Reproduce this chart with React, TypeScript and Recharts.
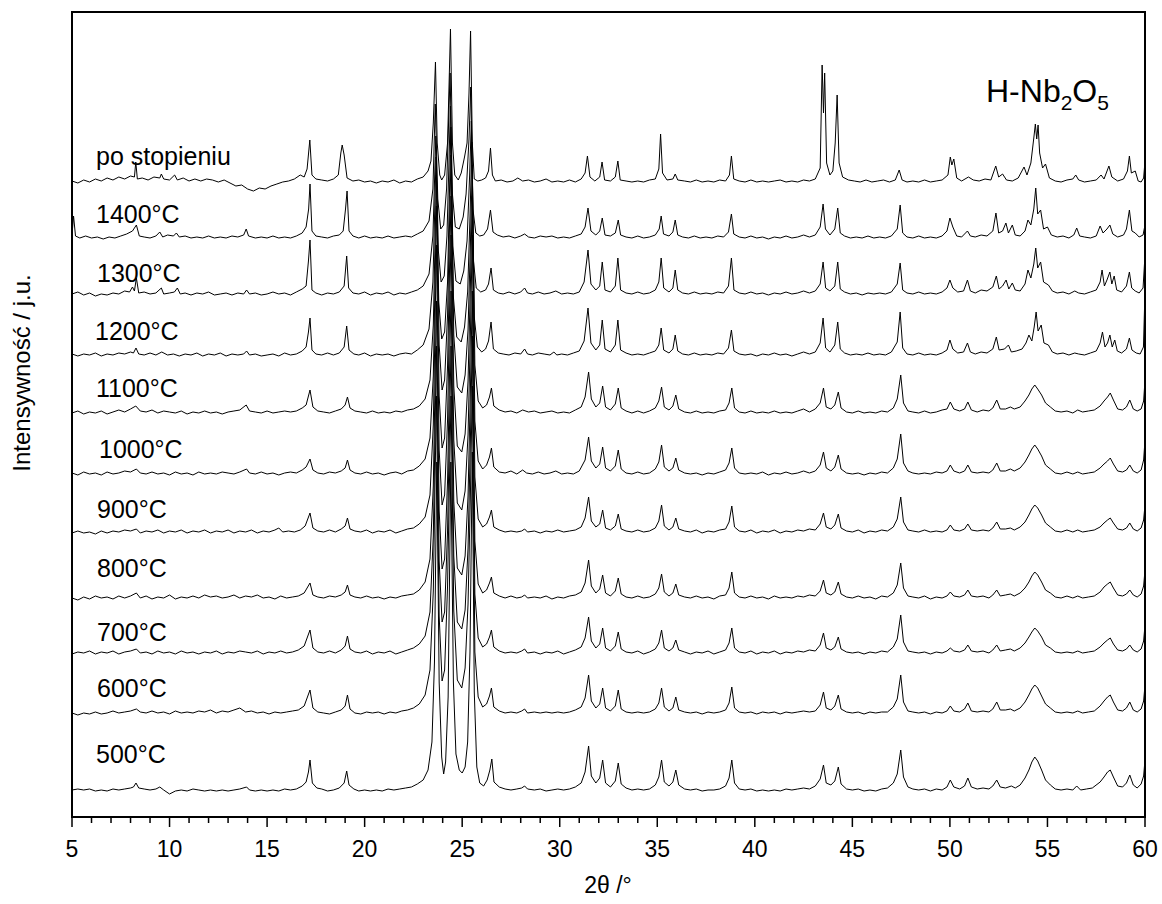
import React from 'react';
import { LineChart, Line, XAxis, YAxis, ReferenceArea } from 'recharts';

// Stacking offsets (baseline level of each pattern, in chart units from the bottom axis)
const OFFSETS = [634, 578, 521, 460, 402, 341, 282, 216, 161, 101, 25];
const SERIES_NAMES = ['po stopieniu', '1400°C', '1300°C', '1200°C', '1100°C', '1000°C', '900°C', '800°C', '700°C', '600°C', '500°C'];
const X_TICKS = [5, 6, 7, 8, 9, 10, 11, 12, 13, 14, 15, 16, 17, 18, 19, 20, 21, 22, 23, 24, 25, 26, 27, 28, 29, 30, 31, 32, 33, 34, 35, 36, 37, 38, 39, 40, 41, 42, 43, 44, 45, 46, 47, 48, 49, 50, 51, 52, 53, 54, 55, 56, 57, 58, 59, 60];

// Each pattern: flat list of [2θ, intensity above its baseline]
const S_PO = [5.0,2, 5.3,0, 5.6,3, 5.9,1, 6.2,4, 6.5,2, 6.8,5, 7.1,3, 7.4,6, 7.7,4, 8.0,7, 8.2,6, 8.27,21, 8.35,4, 8.6,5, 8.9,3, 9.2,6, 9.5,5, 9.58,9, 9.7,4, 10.0,3, 10.26,8, 10.4,3, 10.7,5, 11.0,2, 11.3,4, 11.6,2, 11.9,4, 12.2,3, 12.5,1, 12.8,3, 13.1,0, 13.4,-3, 13.7,-2, 14.0,-6, 14.3,-8, 14.6,-5, 14.9,-6, 15.2,-3, 15.5,-1, 15.8,1, 16.1,2, 16.4,4, 16.7,8, 16.9,6, 17.05,14, 17.19,43, 17.3,8, 17.5,4, 17.8,3, 18.1,2, 18.4,4, 18.65,8, 18.78,30, 18.85,38, 18.95,28, 19.1,5, 19.4,2, 19.7,3, 20.0,1, 20.3,2, 20.6,0, 20.9,2, 21.2,1, 21.5,3, 21.8,0, 22.1,2, 22.4,1, 22.7,4, 23.0,6, 23.25,12, 23.4,22, 23.52,60, 23.63,121, 23.72,40, 23.85,8, 23.95,3, 24.1,8, 24.25,40, 24.4,154, 24.5,40, 24.62,8, 24.8,3, 24.95,10, 25.12,26, 25.25,40, 25.35,90, 25.43,152, 25.52,40, 25.62,4, 25.8,2, 26.0,3, 26.2,5, 26.35,12, 26.45,35, 26.55,8, 26.7,2, 27.0,3, 27.3,1, 27.6,2, 27.85,5, 28.1,2, 28.4,3, 28.7,1, 29.0,2, 29.3,4, 29.6,1, 29.9,2, 30.2,1, 30.5,3, 30.8,1, 31.1,4, 31.3,10, 31.42,27, 31.55,6, 31.8,2, 32.05,6, 32.17,21, 32.3,3, 32.6,2, 32.85,6, 32.98,22, 33.1,3, 33.4,2, 33.7,1, 34.0,2, 34.3,1, 34.6,3, 34.9,4, 35.08,14, 35.17,49, 35.27,10, 35.5,3, 35.8,4, 35.92,9, 36.05,3, 36.4,2, 36.7,1, 37.0,3, 37.3,1, 37.6,2, 37.9,1, 38.2,3, 38.5,2, 38.7,8, 38.8,27, 38.92,4, 39.2,2, 39.5,1, 39.8,3, 40.1,1, 40.4,2, 40.7,1, 41.0,2, 41.3,3, 41.6,1, 41.9,2, 42.2,1, 42.5,3, 42.8,2, 43.1,4, 43.35,15, 43.45,118, 43.52,70, 43.58,110, 43.68,20, 43.85,8, 44.0,12, 44.12,40, 44.22,88, 44.32,20, 44.5,6, 44.8,3, 45.1,2, 45.4,1, 45.7,3, 46.0,1, 46.3,2, 46.6,3, 46.9,1, 47.2,3, 47.4,13, 47.55,3, 47.8,1, 48.1,2, 48.4,1, 48.7,3, 49.0,1, 49.3,2, 49.6,3, 49.9,8, 50.02,26, 50.1,18, 50.2,24, 50.35,5, 50.6,2, 50.95,6, 51.2,3, 51.5,2, 51.8,4, 52.1,3, 52.35,17, 52.5,6, 52.7,9, 52.9,3, 53.2,2, 53.5,5, 53.8,16, 53.95,8, 54.15,20, 54.3,45, 54.38,59, 54.45,44, 54.52,58, 54.6,30, 54.75,15, 54.9,19, 55.1,5, 55.4,2, 55.7,1, 56.0,3, 56.3,4, 56.45,8, 56.6,3, 56.9,1, 57.2,2, 57.5,3, 57.75,8, 57.9,4, 58.15,17, 58.3,6, 58.6,2, 58.9,4, 59.1,12, 59.2,27, 59.3,10, 59.5,12, 59.65,2, 59.8,1, 59.93,5, 60.0,22];

const S_1400 = [5.0,4, 5.08,23, 5.18,3, 5.4,1, 5.7,3, 6.0,1, 6.3,2, 6.6,0, 6.9,2, 7.2,1, 7.5,3, 7.8,5, 8.1,8, 8.3,14, 8.45,3, 8.7,2, 9.0,1, 9.3,3, 9.5,7, 9.65,2, 9.9,4, 10.2,3, 10.35,6, 10.5,2, 10.8,3, 11.1,1, 11.4,2, 11.7,1, 12.0,3, 12.3,1, 12.6,2, 12.9,1, 13.2,3, 13.5,2, 13.8,4, 13.93,10, 14.05,3, 14.4,1, 14.7,2, 15.0,1, 15.3,3, 15.6,1, 15.9,2, 16.2,1, 16.5,3, 16.8,6, 17.0,12, 17.13,30, 17.2,55, 17.3,8, 17.5,3, 17.8,2, 18.1,1, 18.4,3, 18.7,4, 18.9,8, 19.02,30, 19.1,48, 19.2,8, 19.4,3, 19.7,1, 20.0,3, 20.3,1, 20.6,2, 20.9,1, 21.2,3, 21.5,1, 21.8,2, 22.1,3, 22.4,2, 22.7,5, 23.0,8, 23.3,18, 23.5,50, 23.62,135, 23.75,40, 23.9,10, 24.05,14, 24.2,50, 24.38,166, 24.5,45, 24.65,12, 24.85,10, 25.05,22, 25.2,45, 25.35,100, 25.44,152, 25.55,30, 25.7,6, 25.9,3, 26.1,4, 26.3,10, 26.45,29, 26.58,7, 26.8,4, 27.1,2, 27.4,3, 27.7,1, 28.0,3, 28.2,5, 28.4,2, 28.7,1, 29.0,3, 29.3,2, 29.6,3, 29.9,1, 30.2,2, 30.5,1, 30.8,3, 31.1,5, 31.3,12, 31.45,31, 31.6,8, 31.85,4, 32.05,8, 32.18,21, 32.32,4, 32.6,3, 32.85,6, 33.0,19, 33.12,4, 33.4,2, 33.7,1, 34.0,3, 34.3,1, 34.6,2, 34.9,4, 35.1,10, 35.2,23, 35.32,5, 35.6,3, 35.8,7, 35.92,19, 36.05,4, 36.3,2, 36.6,1, 36.9,3, 37.2,1, 37.5,2, 37.8,1, 38.1,3, 38.4,2, 38.65,7, 38.8,25, 38.92,5, 39.2,2, 39.5,1, 39.8,3, 40.1,1, 40.4,2, 40.7,0, 41.0,2, 41.3,1, 41.6,3, 41.9,1, 42.2,2, 42.5,4, 42.8,2, 43.1,4, 43.35,12, 43.5,35, 43.62,10, 43.85,4, 44.1,10, 44.25,31, 44.38,6, 44.6,3, 44.9,1, 45.2,2, 45.5,1, 45.8,3, 46.1,1, 46.4,2, 46.7,1, 47.0,3, 47.3,10, 47.45,34, 47.58,6, 47.8,2, 48.1,1, 48.4,3, 48.7,1, 49.0,2, 49.3,1, 49.6,3, 49.85,8, 50.0,21, 50.15,12, 50.35,3, 50.6,2, 50.9,8, 51.05,3, 51.3,2, 51.6,4, 51.9,3, 52.2,8, 52.36,26, 52.5,6, 52.7,8, 52.87,16, 53.0,6, 53.2,14, 53.35,4, 53.6,3, 53.85,8, 54.0,19, 54.15,14, 54.3,30, 54.4,51, 54.5,25, 54.65,29, 54.8,10, 55.0,12, 55.2,4, 55.5,2, 55.8,3, 56.1,1, 56.35,4, 56.5,11, 56.65,3, 56.9,2, 57.2,1, 57.5,3, 57.7,13, 57.85,6, 58.05,10, 58.2,14, 58.35,5, 58.6,2, 58.9,4, 59.05,10, 59.2,29, 59.33,8, 59.5,6, 59.7,2, 59.9,4, 60.0,14];

const S_1300 = [5.0,2, 5.3,4, 5.6,1, 5.9,3, 6.2,0, 6.5,2, 6.8,1, 7.1,3, 7.4,2, 7.7,5, 7.95,4, 8.1,9, 8.2,5, 8.3,18, 8.42,3, 8.7,4, 9.0,2, 9.3,3, 9.58,8, 9.7,2, 10.0,3, 10.25,4, 10.4,8, 10.55,2, 10.8,3, 11.1,1, 11.4,3, 11.7,2, 12.0,4, 12.3,1, 12.6,2, 12.9,3, 13.2,1, 13.5,3, 13.8,2, 13.95,6, 14.1,2, 14.4,3, 14.7,1, 15.0,2, 15.3,4, 15.6,2, 15.9,3, 16.2,1, 16.5,4, 16.8,7, 17.0,10, 17.12,35, 17.2,56, 17.3,6, 17.5,3, 17.8,1, 18.1,3, 18.4,2, 18.7,4, 18.95,10, 19.08,40, 19.18,8, 19.4,3, 19.7,2, 20.0,4, 20.3,1, 20.6,3, 20.9,2, 21.2,4, 21.5,1, 21.8,3, 22.1,2, 22.4,4, 22.7,6, 23.0,10, 23.3,22, 23.5,60, 23.65,160, 23.78,45, 23.92,14, 24.08,20, 24.22,60, 24.4,190, 24.52,50, 24.68,15, 24.9,12, 25.08,25, 25.25,55, 25.38,120, 25.47,175, 25.58,35, 25.72,8, 25.95,4, 26.2,6, 26.35,12, 26.48,28, 26.6,6, 26.85,3, 27.1,2, 27.4,4, 27.7,2, 28.0,4, 28.2,8, 28.35,3, 28.6,2, 28.9,4, 29.2,2, 29.5,3, 29.8,5, 30.1,2, 30.4,3, 30.7,2, 31.0,4, 31.25,14, 31.45,46, 31.6,12, 31.85,6, 32.05,10, 32.18,34, 32.32,6, 32.6,4, 32.85,10, 32.98,38, 33.12,6, 33.4,3, 33.7,2, 34.0,4, 34.3,2, 34.6,3, 34.9,6, 35.08,14, 35.2,38, 35.33,8, 35.6,4, 35.8,8, 35.92,26, 36.05,6, 36.3,3, 36.6,2, 36.9,4, 37.2,2, 37.5,3, 37.8,2, 38.1,4, 38.4,3, 38.65,10, 38.8,38, 38.93,6, 39.2,3, 39.5,2, 39.8,4, 40.1,2, 40.4,3, 40.7,1, 41.0,3, 41.3,2, 41.6,4, 41.9,2, 42.2,3, 42.5,5, 42.8,3, 43.1,5, 43.35,12, 43.5,34, 43.63,8, 43.85,5, 44.1,10, 44.25,34, 44.38,7, 44.6,4, 44.9,2, 45.2,3, 45.5,1, 45.8,3, 46.1,2, 46.4,3, 46.7,2, 47.0,4, 47.3,12, 47.45,33, 47.58,6, 47.8,3, 48.1,2, 48.4,4, 48.7,2, 49.0,3, 49.3,2, 49.6,4, 49.85,8, 50.0,16, 50.15,8, 50.4,4, 50.7,5, 50.9,16, 51.05,5, 51.3,3, 51.6,6, 51.9,5, 52.2,9, 52.38,20, 52.52,7, 52.7,10, 52.88,16, 53.02,7, 53.2,13, 53.35,6, 53.6,5, 53.85,12, 54.0,26, 54.15,18, 54.3,32, 54.4,48, 54.5,28, 54.65,34, 54.8,14, 55.05,11, 55.25,5, 55.5,3, 55.8,4, 56.1,2, 56.4,5, 56.6,3, 56.9,2, 57.2,4, 57.5,6, 57.7,14, 57.8,26, 57.92,10, 58.05,16, 58.2,24, 58.3,12, 58.42,20, 58.55,6, 58.8,4, 59.05,10, 59.2,24, 59.32,8, 59.5,5, 59.7,3, 59.9,8, 60.0,41];

const S_1200 = [5.0,3, 5.3,1, 5.6,3, 5.9,2, 6.2,4, 6.5,1, 6.8,3, 7.1,2, 7.4,4, 7.7,3, 8.0,5, 8.15,4, 8.28,9, 8.42,3, 8.7,2, 9.0,4, 9.3,2, 9.6,5, 9.9,2, 10.2,3, 10.5,1, 10.8,3, 11.1,2, 11.4,4, 11.7,1, 12.0,3, 12.3,2, 12.6,4, 12.9,1, 13.2,3, 13.5,2, 13.8,3, 13.95,6, 14.1,2, 14.4,3, 14.7,1, 15.0,2, 15.3,3, 15.6,1, 15.9,4, 16.2,2, 16.5,3, 16.8,6, 17.0,10, 17.12,25, 17.2,39, 17.3,7, 17.5,3, 17.8,2, 18.1,4, 18.4,2, 18.7,4, 18.95,10, 19.08,31, 19.2,7, 19.45,3, 19.7,2, 20.0,4, 20.3,1, 20.6,3, 20.9,2, 21.2,3, 21.5,1, 21.8,3, 22.1,4, 22.4,3, 22.7,7, 23.0,12, 23.3,28, 23.5,75, 23.66,200, 23.8,55, 23.95,18, 24.1,25, 24.25,75, 24.42,230, 24.55,60, 24.72,20, 24.95,15, 25.12,30, 25.28,65, 25.4,140, 25.5,215, 25.62,40, 25.78,10, 26.0,5, 26.2,8, 26.35,16, 26.48,35, 26.6,8, 26.85,4, 27.1,3, 27.4,2, 27.7,4, 28.0,3, 28.2,8, 28.35,3, 28.6,2, 28.9,4, 29.2,3, 29.5,2, 29.7,5, 29.85,2, 30.1,3, 30.4,2, 30.7,4, 31.0,6, 31.25,16, 31.45,49, 31.6,14, 31.85,7, 32.05,12, 32.18,37, 32.32,8, 32.6,5, 32.85,12, 32.98,37, 33.12,7, 33.4,4, 33.7,2, 34.0,3, 34.3,2, 34.6,4, 34.9,6, 35.08,12, 35.2,29, 35.33,7, 35.6,4, 35.8,8, 35.92,22, 36.05,6, 36.3,3, 36.6,2, 36.9,4, 37.2,2, 37.5,3, 37.8,2, 38.1,4, 38.4,3, 38.65,9, 38.8,27, 38.93,6, 39.2,3, 39.5,2, 39.8,3, 40.1,1, 40.4,3, 40.7,2, 41.0,4, 41.3,2, 41.6,3, 41.9,1, 42.2,3, 42.5,5, 42.8,3, 43.1,5, 43.35,14, 43.5,39, 43.63,9, 43.85,5, 44.1,12, 44.25,35, 44.38,8, 44.6,4, 44.9,2, 45.2,3, 45.5,2, 45.8,4, 46.1,2, 46.4,3, 46.7,2, 47.0,5, 47.3,15, 47.45,45, 47.58,9, 47.8,3, 48.1,2, 48.4,4, 48.7,2, 49.0,3, 49.3,2, 49.6,4, 49.85,7, 50.0,17, 50.15,8, 50.4,4, 50.7,5, 50.9,14, 51.05,5, 51.3,3, 51.6,5, 51.9,4, 52.2,8, 52.38,20, 52.52,7, 52.8,8, 53.0,12, 53.15,5, 53.4,6, 53.7,8, 53.9,14, 54.05,22, 54.2,16, 54.32,30, 54.42,45, 54.52,26, 54.68,32, 54.82,14, 55.05,12, 55.25,5, 55.5,3, 55.8,4, 56.1,2, 56.4,4, 56.6,3, 56.9,2, 57.2,4, 57.5,6, 57.7,14, 57.82,25, 57.95,10, 58.08,14, 58.2,22, 58.32,10, 58.45,17, 58.58,6, 58.8,4, 59.05,8, 59.2,19, 59.33,7, 59.55,4, 59.75,3, 59.92,10, 60.0,66];

const S_1100 = [5.0,2, 5.3,4, 5.6,1, 5.9,3, 6.2,2, 6.5,4, 6.8,1, 7.1,3, 7.4,5, 7.7,3, 8.0,6, 8.27,9, 8.5,4, 8.8,3, 9.1,5, 9.4,2, 9.7,4, 10.0,3, 10.3,2, 10.6,4, 10.9,1, 11.2,3, 11.5,2, 11.8,4, 12.1,2, 12.4,3, 12.7,1, 13.0,3, 13.3,4, 13.6,5, 13.93,10, 14.1,4, 14.4,3, 14.7,2, 15.0,4, 15.3,2, 15.6,3, 15.9,4, 16.2,3, 16.5,4, 16.8,7, 17.0,10, 17.2,25, 17.35,8, 17.6,4, 17.9,3, 18.2,2, 18.5,4, 18.8,6, 19.0,10, 19.12,18, 19.25,7, 19.5,4, 19.8,3, 20.1,2, 20.4,4, 20.7,2, 21.0,3, 21.3,2, 21.6,4, 21.9,3, 22.2,5, 22.5,6, 22.8,9, 23.1,16, 23.35,35, 23.52,90, 23.68,240, 23.82,70, 23.97,25, 24.1,35, 24.25,100, 24.43,260, 24.57,80, 24.75,28, 24.98,22, 25.15,40, 25.3,85, 25.42,170, 25.52,250, 25.65,50, 25.82,14, 26.05,7, 26.25,10, 26.4,18, 26.5,27, 26.62,9, 26.9,5, 27.2,3, 27.5,4, 27.8,2, 28.1,5, 28.4,3, 28.7,4, 29.0,2, 29.3,3, 29.6,4, 29.9,2, 30.2,3, 30.5,2, 30.8,5, 31.1,8, 31.3,18, 31.48,43, 31.62,16, 31.85,8, 32.05,12, 32.2,29, 32.35,8, 32.6,5, 32.85,11, 33.0,27, 33.15,7, 33.4,4, 33.7,2, 34.0,4, 34.3,2, 34.6,4, 34.9,7, 35.08,14, 35.22,28, 35.36,8, 35.6,5, 35.8,9, 35.95,20, 36.1,6, 36.4,3, 36.7,2, 37.0,4, 37.3,2, 37.6,3, 37.9,2, 38.2,4, 38.5,5, 38.68,12, 38.82,27, 38.96,7, 39.2,3, 39.5,2, 39.8,4, 40.1,2, 40.4,3, 40.7,2, 41.0,4, 41.3,2, 41.6,3, 41.9,2, 42.2,4, 42.5,6, 42.8,3, 43.1,6, 43.35,12, 43.52,27, 43.66,8, 43.9,6, 44.1,10, 44.28,23, 44.42,7, 44.7,3, 45.0,2, 45.3,4, 45.6,2, 45.9,3, 46.2,2, 46.5,4, 46.8,3, 47.1,7, 47.3,16, 47.48,40, 47.62,12, 47.85,4, 48.1,3, 48.4,2, 48.7,4, 49.0,2, 49.3,3, 49.6,5, 49.85,6, 50.02,13, 50.2,6, 50.5,4, 50.75,6, 50.92,13, 51.1,5, 51.4,3, 51.7,5, 52.0,4, 52.2,7, 52.4,15, 52.58,6, 52.85,6, 53.1,8, 53.3,6, 53.6,8, 53.85,14, 54.05,20, 54.2,26, 54.35,30, 54.5,26, 54.7,20, 54.9,12, 55.15,8, 55.4,4, 55.7,3, 56.0,4, 56.3,2, 56.55,5, 56.8,3, 57.1,4, 57.4,5, 57.7,9, 57.9,14, 58.08,18, 58.22,22, 58.38,15, 58.6,6, 58.85,5, 59.05,8, 59.22,15, 59.4,6, 59.6,4, 59.8,6, 59.93,14, 60.0,35];

const S_1000 = [5.0,3, 5.3,1, 5.6,4, 5.9,2, 6.2,3, 6.5,1, 6.8,4, 7.1,2, 7.4,3, 7.7,5, 8.0,4, 8.3,7, 8.5,3, 8.8,2, 9.1,4, 9.4,2, 9.7,3, 10.0,1, 10.3,4, 10.6,2, 10.9,3, 11.2,1, 11.5,4, 11.8,2, 12.1,3, 12.4,2, 12.7,4, 13.0,3, 13.3,2, 13.6,4, 13.95,7, 14.1,3, 14.4,2, 14.7,4, 15.0,2, 15.3,3, 15.6,1, 15.9,3, 16.2,4, 16.5,3, 16.8,6, 17.0,9, 17.2,17, 17.35,6, 17.6,3, 17.9,2, 18.2,4, 18.5,3, 18.8,5, 19.0,8, 19.12,16, 19.25,6, 19.5,3, 19.8,2, 20.1,4, 20.4,2, 20.7,3, 21.0,1, 21.3,3, 21.6,4, 21.9,2, 22.2,5, 22.5,6, 22.8,10, 23.1,17, 23.35,38, 23.52,100, 23.68,270, 23.82,80, 23.97,28, 24.1,38, 24.25,110, 24.43,280, 24.57,90, 24.75,30, 24.98,24, 25.15,42, 25.3,95, 25.42,190, 25.52,280, 25.65,55, 25.82,15, 26.05,7, 26.25,11, 26.4,19, 26.5,28, 26.62,9, 26.9,4, 27.2,3, 27.5,5, 27.8,2, 28.1,6, 28.3,3, 28.6,2, 28.9,4, 29.2,2, 29.5,3, 29.8,5, 30.1,2, 30.4,3, 30.7,2, 31.0,5, 31.3,16, 31.48,39, 31.62,15, 31.85,8, 32.05,12, 32.2,29, 32.35,8, 32.6,5, 32.85,10, 33.0,26, 33.15,7, 33.4,3, 33.7,2, 34.0,4, 34.3,2, 34.6,3, 34.9,7, 35.08,14, 35.22,31, 35.36,9, 35.6,5, 35.8,8, 35.95,18, 36.1,6, 36.4,3, 36.7,2, 37.0,3, 37.3,1, 37.6,3, 37.9,2, 38.2,4, 38.5,6, 38.68,13, 38.82,28, 38.96,8, 39.2,3, 39.5,2, 39.8,3, 40.1,2, 40.4,4, 40.7,1, 41.0,3, 41.3,2, 41.6,4, 41.9,2, 42.2,3, 42.5,5, 42.8,3, 43.1,5, 43.35,11, 43.52,24, 43.66,8, 43.9,5, 44.1,9, 44.28,21, 44.42,7, 44.7,3, 45.0,2, 45.3,3, 45.6,1, 45.9,3, 46.2,2, 46.5,4, 46.8,3, 47.1,8, 47.3,17, 47.48,42, 47.62,13, 47.85,5, 48.1,3, 48.4,2, 48.7,3, 49.0,2, 49.3,4, 49.6,3, 49.85,5, 50.02,11, 50.2,5, 50.5,3, 50.75,5, 50.92,11, 51.1,4, 51.4,3, 51.7,4, 52.0,3, 52.2,6, 52.4,13, 52.58,5, 52.85,5, 53.1,7, 53.3,5, 53.6,8, 53.85,14, 54.05,21, 54.2,27, 54.35,31, 54.5,27, 54.7,20, 54.9,11, 55.15,7, 55.4,3, 55.7,2, 56.0,4, 56.3,2, 56.55,4, 56.8,2, 57.1,3, 57.4,4, 57.7,8, 57.9,12, 58.08,15, 58.22,18, 58.38,12, 58.6,5, 58.85,4, 59.05,6, 59.22,11, 59.4,5, 59.6,3, 59.8,6, 59.93,16, 60.0,36];

const S_900 = [5.0,2, 5.3,4, 5.6,2, 5.9,3, 6.2,1, 6.5,4, 6.8,2, 7.1,4, 7.4,3, 7.7,5, 8.0,4, 8.3,6, 8.5,2, 8.8,4, 9.1,3, 9.4,5, 9.7,2, 10.0,4, 10.3,3, 10.6,5, 10.9,2, 11.2,4, 11.5,3, 11.8,5, 12.1,2, 12.4,4, 12.7,3, 13.0,5, 13.3,2, 13.6,4, 13.9,3, 14.2,5, 14.5,2, 14.8,4, 15.1,3, 15.4,5, 15.6,7, 15.8,3, 16.1,4, 16.4,3, 16.7,5, 16.95,9, 17.2,22, 17.35,7, 17.6,4, 17.9,3, 18.2,5, 18.5,3, 18.8,6, 19.0,9, 19.12,17, 19.25,6, 19.5,4, 19.8,3, 20.1,5, 20.4,2, 20.7,4, 21.0,3, 21.3,5, 21.6,2, 21.9,4, 22.2,6, 22.5,7, 22.8,11, 23.1,18, 23.35,40, 23.52,110, 23.68,290, 23.82,85, 23.97,30, 24.1,40, 24.25,115, 24.43,300, 24.57,95, 24.75,32, 24.98,25, 25.15,44, 25.3,100, 25.42,200, 25.52,300, 25.65,58, 25.82,16, 26.05,8, 26.25,11, 26.4,18, 26.5,25, 26.62,8, 26.9,5, 27.2,3, 27.5,4, 27.8,3, 28.05,4, 28.2,6, 28.35,3, 28.7,4, 29.0,2, 29.3,4, 29.6,3, 29.9,5, 30.2,3, 30.5,4, 30.8,5, 31.1,8, 31.3,17, 31.48,38, 31.62,14, 31.85,8, 32.05,11, 32.2,25, 32.35,7, 32.6,5, 32.85,9, 33.0,21, 33.15,6, 33.4,4, 33.7,3, 34.0,5, 34.3,3, 34.6,4, 34.9,7, 35.08,14, 35.22,30, 35.36,9, 35.6,5, 35.8,8, 35.95,17, 36.1,6, 36.4,4, 36.7,3, 37.0,5, 37.3,2, 37.6,4, 37.9,3, 38.2,5, 38.5,6, 38.68,13, 38.82,29, 38.96,8, 39.2,4, 39.5,3, 39.8,5, 40.1,2, 40.4,4, 40.7,3, 41.0,5, 41.3,2, 41.6,4, 41.9,3, 42.2,5, 42.5,4, 42.8,6, 43.1,5, 43.35,11, 43.52,22, 43.66,8, 43.9,6, 44.1,10, 44.28,21, 44.42,7, 44.7,4, 45.0,3, 45.3,5, 45.6,2, 45.9,4, 46.2,3, 46.5,5, 46.8,4, 47.1,8, 47.3,16, 47.48,38, 47.62,13, 47.85,5, 48.1,4, 48.4,3, 48.7,5, 49.0,3, 49.3,4, 49.6,3, 49.85,5, 50.02,10, 50.2,5, 50.5,4, 50.75,6, 50.92,11, 51.1,5, 51.4,4, 51.7,5, 52.0,4, 52.2,7, 52.4,13, 52.58,6, 52.85,6, 53.1,7, 53.3,5, 53.6,8, 53.85,13, 54.05,20, 54.2,26, 54.35,30, 54.5,27, 54.7,20, 54.9,12, 55.15,8, 55.4,4, 55.7,3, 56.0,5, 56.3,3, 56.55,5, 56.8,3, 57.1,4, 57.4,5, 57.7,8, 57.9,12, 58.08,15, 58.22,17, 58.38,12, 58.6,6, 58.85,5, 59.05,7, 59.22,12, 59.4,6, 59.6,4, 59.8,7, 59.93,15, 60.0,30];

const S_800 = [5.0,3, 5.3,1, 5.6,4, 5.9,2, 6.2,5, 6.5,3, 6.8,4, 7.1,2, 7.4,5, 7.7,3, 8.0,5, 8.3,8, 8.5,3, 8.8,5, 9.1,2, 9.4,4, 9.7,3, 10.0,6, 10.3,2, 10.6,4, 10.9,3, 11.2,5, 11.5,3, 11.8,6, 12.1,4, 12.4,5, 12.7,3, 13.0,4, 13.3,6, 13.6,3, 13.9,5, 14.2,4, 14.5,6, 14.8,3, 15.1,4, 15.4,2, 15.7,5, 16.0,3, 16.3,4, 16.6,5, 16.9,8, 17.2,18, 17.35,6, 17.6,4, 17.9,3, 18.2,5, 18.5,4, 18.8,6, 19.0,9, 19.12,16, 19.25,6, 19.5,4, 19.8,3, 20.1,5, 20.4,3, 20.7,4, 21.0,2, 21.3,4, 21.6,3, 21.9,5, 22.2,6, 22.5,7, 22.8,11, 23.1,19, 23.35,42, 23.52,115, 23.68,300, 23.82,90, 23.97,32, 24.1,42, 24.25,120, 24.43,310, 24.57,100, 24.75,33, 24.98,26, 25.15,45, 25.3,105, 25.42,210, 25.52,310, 25.65,60, 25.82,17, 26.05,8, 26.25,11, 26.4,18, 26.5,24, 26.62,8, 26.9,5, 27.2,3, 27.5,5, 27.8,3, 28.05,4, 28.2,6, 28.35,3, 28.7,4, 29.0,3, 29.3,5, 29.6,2, 29.9,4, 30.2,3, 30.5,5, 30.8,6, 31.1,9, 31.3,18, 31.48,41, 31.62,15, 31.85,8, 32.05,12, 32.2,26, 32.35,8, 32.6,5, 32.85,10, 33.0,23, 33.15,7, 33.4,4, 33.7,3, 34.0,5, 34.3,3, 34.6,4, 34.9,7, 35.08,13, 35.22,27, 35.36,9, 35.6,5, 35.8,8, 35.95,17, 36.1,6, 36.4,4, 36.7,3, 37.0,5, 37.3,3, 37.6,4, 37.9,2, 38.2,5, 38.5,6, 38.68,13, 38.82,29, 38.96,8, 39.2,4, 39.5,3, 39.8,5, 40.1,3, 40.4,4, 40.7,2, 41.0,5, 41.3,3, 41.6,4, 41.9,3, 42.2,5, 42.5,4, 42.8,6, 43.1,5, 43.35,10, 43.52,21, 43.66,8, 43.9,6, 44.1,9, 44.28,19, 44.42,7, 44.7,4, 45.0,3, 45.3,5, 45.6,3, 45.9,4, 46.2,2, 46.5,5, 46.8,4, 47.1,8, 47.3,16, 47.48,38, 47.62,13, 47.85,5, 48.1,4, 48.4,3, 48.7,5, 49.0,2, 49.3,4, 49.6,3, 49.85,5, 50.02,9, 50.2,5, 50.5,4, 50.75,6, 50.92,11, 51.1,5, 51.4,4, 51.7,5, 52.0,3, 52.2,6, 52.4,11, 52.58,5, 52.85,6, 53.1,7, 53.3,5, 53.6,8, 53.85,13, 54.05,19, 54.2,25, 54.35,29, 54.5,26, 54.7,19, 54.9,11, 55.15,8, 55.4,4, 55.7,3, 56.0,5, 56.3,3, 56.55,5, 56.8,3, 57.1,4, 57.4,5, 57.7,9, 57.9,14, 58.08,17, 58.22,19, 58.38,13, 58.6,6, 58.85,5, 59.05,7, 59.22,11, 59.4,6, 59.6,4, 59.8,7, 59.93,15, 60.0,31];

const S_700 = [5.0,2, 5.3,4, 5.6,3, 5.9,5, 6.2,2, 6.5,4, 6.8,3, 7.1,5, 7.4,2, 7.7,4, 8.0,5, 8.3,7, 8.5,3, 8.8,4, 9.1,2, 9.4,5, 9.7,3, 10.0,4, 10.3,2, 10.6,5, 10.9,3, 11.2,4, 11.5,2, 11.8,4, 12.1,3, 12.4,5, 12.7,2, 13.0,4, 13.3,3, 13.6,5, 13.9,4, 14.2,3, 14.5,5, 14.8,2, 15.1,4, 15.4,3, 15.7,5, 16.0,3, 16.3,4, 16.6,6, 16.9,10, 17.2,26, 17.35,8, 17.6,4, 17.9,3, 18.2,5, 18.5,3, 18.8,6, 19.0,10, 19.12,20, 19.25,7, 19.5,4, 19.8,3, 20.1,5, 20.4,2, 20.7,4, 21.0,3, 21.3,5, 21.6,2, 21.9,4, 22.2,6, 22.5,8, 22.8,12, 23.1,20, 23.35,44, 23.52,120, 23.68,310, 23.82,95, 23.97,34, 24.1,44, 24.25,125, 24.43,310, 24.57,100, 24.75,34, 24.98,27, 25.15,46, 25.3,108, 25.42,215, 25.52,320, 25.65,62, 25.82,18, 26.05,9, 26.25,12, 26.4,19, 26.5,26, 26.62,9, 26.9,5, 27.2,3, 27.5,4, 27.8,3, 28.05,5, 28.2,7, 28.35,3, 28.7,4, 29.0,2, 29.3,4, 29.6,3, 29.9,5, 30.2,2, 30.5,4, 30.8,6, 31.1,9, 31.3,18, 31.48,39, 31.62,15, 31.85,8, 32.05,12, 32.2,28, 32.35,8, 32.6,5, 32.85,10, 33.0,24, 33.15,7, 33.4,4, 33.7,3, 34.0,5, 34.3,2, 34.6,4, 34.9,7, 35.08,13, 35.22,26, 35.36,8, 35.6,5, 35.8,8, 35.95,16, 36.1,6, 36.4,4, 36.7,2, 37.0,4, 37.3,3, 37.6,5, 37.9,2, 38.2,4, 38.5,6, 38.68,13, 38.82,28, 38.96,8, 39.2,4, 39.5,3, 39.8,5, 40.1,2, 40.4,4, 40.7,3, 41.0,5, 41.3,2, 41.6,4, 41.9,3, 42.2,5, 42.5,4, 42.8,6, 43.1,5, 43.35,11, 43.52,23, 43.66,8, 43.9,6, 44.1,9, 44.28,19, 44.42,7, 44.7,4, 45.0,3, 45.3,4, 45.6,2, 45.9,4, 46.2,3, 46.5,5, 46.8,4, 47.1,9, 47.3,17, 47.48,41, 47.62,14, 47.85,5, 48.1,4, 48.4,3, 48.7,4, 49.0,2, 49.3,4, 49.6,3, 49.85,5, 50.02,8, 50.2,5, 50.5,4, 50.75,6, 50.92,11, 51.1,5, 51.4,4, 51.7,5, 52.0,3, 52.2,6, 52.4,11, 52.58,5, 52.85,6, 53.1,7, 53.3,5, 53.6,8, 53.85,13, 54.05,19, 54.2,24, 54.35,28, 54.5,25, 54.7,19, 54.9,11, 55.15,8, 55.4,4, 55.7,3, 56.0,4, 56.3,3, 56.55,5, 56.8,3, 57.1,4, 57.4,5, 57.7,9, 57.9,13, 58.08,16, 58.22,18, 58.38,12, 58.6,6, 58.85,5, 59.05,7, 59.22,11, 59.4,6, 59.6,4, 59.8,7, 59.93,15, 60.0,31];

const S_600 = [5.0,3, 5.3,1, 5.6,3, 5.9,2, 6.2,4, 6.5,2, 6.8,3, 7.1,5, 7.4,3, 7.7,4, 8.0,5, 8.3,7, 8.5,4, 8.8,3, 9.1,5, 9.4,3, 9.7,4, 10.0,2, 10.3,5, 10.6,3, 10.9,4, 11.2,3, 11.5,5, 11.8,4, 12.1,6, 12.4,3, 12.7,5, 13.0,4, 13.3,6, 13.6,8, 13.9,4, 14.2,5, 14.5,3, 14.8,4, 15.1,2, 15.4,4, 15.7,3, 16.0,4, 16.3,5, 16.6,6, 16.9,10, 17.2,26, 17.35,8, 17.6,4, 17.9,3, 18.2,2, 18.5,4, 18.8,6, 19.0,10, 19.12,21, 19.25,7, 19.5,3, 19.8,2, 20.1,4, 20.4,3, 20.7,4, 21.0,2, 21.3,4, 21.6,3, 21.9,5, 22.2,6, 22.5,8, 22.8,12, 23.1,21, 23.35,46, 23.52,125, 23.68,320, 23.82,100, 23.97,35, 24.1,46, 24.25,130, 24.43,320, 24.57,105, 24.75,36, 24.98,28, 25.15,48, 25.3,112, 25.42,220, 25.52,330, 25.65,64, 25.82,19, 26.05,9, 26.25,12, 26.4,20, 26.5,28, 26.62,9, 26.9,5, 27.2,3, 27.5,4, 27.8,3, 28.05,5, 28.2,7, 28.35,3, 28.7,4, 29.0,3, 29.3,4, 29.6,3, 29.9,4, 30.2,3, 30.5,4, 30.8,6, 31.1,9, 31.3,18, 31.48,41, 31.62,15, 31.85,8, 32.05,12, 32.2,28, 32.35,8, 32.6,5, 32.85,10, 33.0,26, 33.15,7, 33.4,4, 33.7,3, 34.0,4, 34.3,3, 34.6,4, 34.9,7, 35.08,13, 35.22,28, 35.36,9, 35.6,5, 35.8,8, 35.95,19, 36.1,6, 36.4,4, 36.7,3, 37.0,4, 37.3,2, 37.6,4, 37.9,3, 38.2,4, 38.5,6, 38.68,13, 38.82,29, 38.96,8, 39.2,4, 39.5,3, 39.8,4, 40.1,2, 40.4,4, 40.7,3, 41.0,4, 41.3,2, 41.6,4, 41.9,3, 42.2,4, 42.5,5, 42.8,4, 43.1,5, 43.35,11, 43.52,24, 43.66,8, 43.9,6, 44.1,10, 44.28,21, 44.42,7, 44.7,4, 45.0,3, 45.3,4, 45.6,2, 45.9,4, 46.2,3, 46.5,4, 46.8,4, 47.1,9, 47.3,17, 47.48,41, 47.62,14, 47.85,5, 48.1,4, 48.4,3, 48.7,4, 49.0,2, 49.3,4, 49.6,3, 49.85,5, 50.02,10, 50.2,5, 50.5,4, 50.75,7, 50.92,13, 51.1,5, 51.4,4, 51.7,5, 52.0,4, 52.2,7, 52.4,14, 52.58,6, 52.85,6, 53.1,7, 53.3,5, 53.6,8, 53.85,14, 54.05,21, 54.2,27, 54.35,31, 54.5,28, 54.7,20, 54.9,12, 55.15,8, 55.4,4, 55.7,3, 56.0,4, 56.3,3, 56.55,5, 56.8,3, 57.1,4, 57.4,5, 57.7,10, 57.9,15, 58.08,19, 58.22,21, 58.38,14, 58.6,6, 58.85,5, 59.05,8, 59.22,14, 59.4,6, 59.6,4, 59.8,7, 59.93,15, 60.0,31];

const S_500 = [5.0,2, 5.3,3, 5.6,2, 5.9,3, 6.2,1, 6.5,2, 6.8,1, 7.1,3, 7.4,2, 7.7,3, 8.0,4, 8.15,5, 8.28,9, 8.42,4, 8.7,3, 9.0,2, 9.3,3, 9.5,5, 9.7,2, 10.0,-2, 10.3,1, 10.6,2, 10.9,1, 11.2,3, 11.5,2, 11.8,1, 12.1,2, 12.4,1, 12.7,2, 13.0,1, 13.3,2, 13.6,3, 13.95,5, 14.1,2, 14.4,1, 14.7,2, 15.0,1, 15.3,2, 15.6,1, 15.9,3, 16.2,2, 16.5,3, 16.8,6, 17.0,10, 17.12,20, 17.2,32, 17.32,9, 17.55,4, 17.8,3, 18.1,1, 18.4,2, 18.7,4, 18.95,9, 19.08,21, 19.2,7, 19.45,3, 19.7,1, 20.0,2, 20.3,1, 20.6,2, 20.9,1, 21.2,3, 21.5,2, 21.8,3, 22.1,4, 22.4,5, 22.7,8, 23.0,12, 23.25,22, 23.45,50, 23.58,130, 23.7,330, 23.82,110, 23.95,35, 24.05,18, 24.15,30, 24.28,95, 24.42,330, 24.55,110, 24.68,38, 24.85,22, 25.0,19, 25.15,25, 25.28,50, 25.4,140, 25.52,340, 25.62,100, 25.75,25, 25.9,9, 26.1,6, 26.28,12, 26.42,22, 26.52,33, 26.63,10, 26.9,5, 27.2,3, 27.5,2, 27.8,3, 28.05,4, 28.2,6, 28.35,3, 28.7,2, 29.0,3, 29.3,1, 29.6,2, 29.9,3, 30.2,2, 30.5,3, 30.8,5, 31.1,9, 31.3,20, 31.48,46, 31.62,16, 31.85,9, 32.05,14, 32.2,32, 32.35,9, 32.6,5, 32.85,11, 33.0,29, 33.15,8, 33.4,4, 33.7,2, 34.0,3, 34.3,2, 34.6,3, 34.9,7, 35.08,15, 35.22,32, 35.36,10, 35.6,6, 35.8,10, 35.95,22, 36.1,7, 36.4,3, 36.7,2, 37.0,3, 37.3,1, 37.6,2, 37.9,2, 38.2,3, 38.5,6, 38.68,14, 38.82,32, 38.96,9, 39.2,3, 39.5,2, 39.8,3, 40.1,1, 40.4,2, 40.7,1, 41.0,2, 41.3,1, 41.6,3, 41.9,2, 42.2,3, 42.5,4, 42.8,3, 43.1,6, 43.35,13, 43.52,27, 43.66,9, 43.9,7, 44.1,11, 44.28,25, 44.42,8, 44.7,3, 45.0,2, 45.3,3, 45.6,1, 45.9,2, 46.2,1, 46.5,3, 46.8,4, 47.1,9, 47.3,18, 47.48,42, 47.62,15, 47.85,5, 48.1,3, 48.4,2, 48.7,3, 49.0,1, 49.3,3, 49.6,2, 49.85,5, 50.02,12, 50.2,5, 50.5,3, 50.75,6, 50.92,14, 51.1,5, 51.4,3, 51.7,4, 52.0,3, 52.2,6, 52.4,12, 52.58,5, 52.85,4, 53.15,6, 53.35,4, 53.6,7, 53.85,14, 54.05,22, 54.2,30, 54.35,35, 54.5,31, 54.7,22, 54.9,12, 55.15,7, 55.4,3, 55.7,2, 56.0,3, 56.3,2, 56.5,6, 56.7,2, 57.0,3, 57.3,4, 57.7,10, 57.9,15, 58.08,20, 58.22,22, 58.38,15, 58.6,6, 58.85,5, 59.05,9, 59.22,17, 59.4,7, 59.6,4, 59.8,8, 59.93,16, 60.0,32];

const SERIES_DATA = [S_PO, S_1400, S_1300, S_1200, S_1100, S_1000, S_900, S_800, S_700, S_600, S_500];

const buildSeries = (flat: number[], offset: number) => {
  const pts: { x: number; y: number }[] = [];
  for (let k = 0; k < flat.length; k += 2) pts.push({ x: flat[k], y: flat[k + 1] + offset });
  return pts;
};

const FONT = "'Liberation Sans', Arial, Helvetica, sans-serif";

// label placement (style)
const LABEL_X = [96, 96, 97, 95, 96, 99, 97, 97, 97, 97, 96];
const LABEL_Y = [165, 223, 282, 340, 397, 458, 518, 577, 641, 697, 763];

const AxisTick = (props: any) => {
  const { x, y, payload } = props;
  const v = payload.value;
  const major = v % 5 === 0;
  return (
    <g>
      <line x1={x} x2={x} y1={y} y2={y + (major ? 10 : 6)} stroke="#000" strokeWidth={1.5} />
      {major && (
        <text x={x} y={y + 40} textAnchor="middle" fontSize={23} fontFamily={FONT} fill="#000">
          {v}
        </text>
      )}
    </g>
  );
};

export default function App() {
  const series = SERIES_DATA.map((s, i) => buildSeries(s, OFFSETS[i]));
  return (
    <div style={{ position: 'absolute', left: 0, top: 0, width: 1162, height: 904, background: '#fff' }}>
      <LineChart width={1162} height={904} margin={{ top: 12, right: 17, left: 72, bottom: 0 }}>
        <XAxis
          dataKey="x"
          type="number"
          domain={[5, 60]}
          ticks={X_TICKS}
          interval={0}
          allowDataOverflow
          height={87}
          tickSize={0}
          tickMargin={0}
          tickLine={false}
          axisLine={{ stroke: '#000', strokeWidth: 2 }}
          tick={<AxisTick />}
        />
        <YAxis hide type="number" domain={[0, 805]} allowDataOverflow />
        {series.map((pts, i) => (
          <Line
            key={SERIES_NAMES[i]}
            data={pts}
            dataKey="y"
            type="linear"
            dot={false}
            activeDot={false}
            stroke="#000"
            strokeWidth={1}
            isAnimationActive={false}
          />
        ))}
        <ReferenceArea x1={5} x2={60} y1={0} y2={805} fill="none" fillOpacity={0} stroke="#000" strokeWidth={2} ifOverflow="visible" />
      </LineChart>
      <svg width={1162} height={904} style={{ position: 'absolute', left: 0, top: 0, pointerEvents: 'none' }}>
        {SERIES_NAMES.map((n, i) => (
          <text key={n} x={LABEL_X[i]} y={LABEL_Y[i]} fontSize={25} fontFamily={FONT} fill="#000">
            {n}
          </text>
        ))}
        <text x={986} y={102} fontSize={32} fontFamily={FONT} fill="#000">
          H-Nb<tspan fontSize={21} dy={8}>2</tspan>
          <tspan dy={-8}>O</tspan>
          <tspan fontSize={21} dy={8}>5</tspan>
        </text>
        <text x={608} y={893} fontSize={23} fontFamily={FONT} fill="#000" textAnchor="middle">
          2θ /°
        </text>
        <text
          x={30}
          y={373}
          fontSize={24}
          fontFamily={FONT}
          fill="#000"
          textAnchor="middle"
          transform="rotate(-90 30 373)"
        >
          Intensywność / j.u.
        </text>
      </svg>
    </div>
  );
}
